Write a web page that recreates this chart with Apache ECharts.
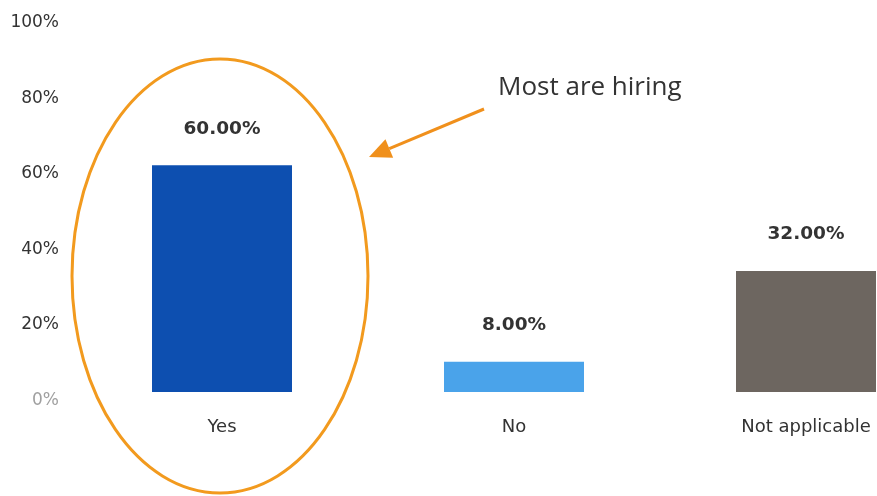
<!DOCTYPE html>
<html>
<head>
<meta charset="utf-8">
<script src="https://cdn.jsdelivr.net/npm/echarts@6/dist/echarts.min.js"></script>
<style>
  html, body { margin: 0; padding: 0; background: #ffffff; }
  #chart { width: 877px; height: 496px; }
</style>
</head>
<body>
<div id="chart"></div>
<script>
// Survey answers and their shares (percent)
const categories = ['Yes', 'No', 'Not applicable'];
const shares = [60, 8, 32];
const barColors = ['#0d4fb0', '#4aa3ea', '#6d6660'];
const yTicks = [0, 20, 40, 60, 80, 100];

const chart = echarts.init(document.getElementById('chart'));

// Arrow geometry for the callout
const arrowStart = [484, 109];
const arrowTip = [369, 157];
const dx = arrowTip[0] - arrowStart[0], dy = arrowTip[1] - arrowStart[1];
const len = Math.sqrt(dx * dx + dy * dy);
const ux = dx / len, uy = dy / len;
const headLen = 22, headHalf = 10;
const bx = arrowTip[0] - ux * headLen, by = arrowTip[1] - uy * headLen;
const headPts = [
  arrowTip,
  [bx - uy * headHalf, by + ux * headHalf],
  [bx + uy * headHalf, by - ux * headHalf]
];

chart.setOption({
  animation: false,
  backgroundColor: '#ffffff',
  grid: {
    left: 76, top: 14, bottom: 104, width: 876,
    containLabel: false,
    outerBoundsMode: 'none'
  },
  xAxis: {
    type: 'category',
    data: categories,
    axisLine: { show: false },
    axisTick: { show: false },
    axisLabel: {
      margin: 26,
      fontSize: 18,
      fontFamily: 'DejaVu Sans',
      color: '#333333'
    }
  },
  yAxis: {
    type: 'value',
    min: yTicks[0],
    max: yTicks[yTicks.length - 1],
    interval: 20,
    splitLine: { show: false },
    axisLine: { show: false },
    axisTick: { show: false },
    axisLabel: {
      margin: 17,
      fontSize: 17,
      fontFamily: 'DejaVu Sans',
      verticalAlign: 'top',
      formatter: v => v + '%',
      color: v => (Number(v) === 0 ? '#a0a0a0' : '#333333')
    }
  },
  series: [{
    type: 'bar',
    barWidth: 140,
    data: shares.map((v, i) => ({ value: v, itemStyle: { color: barColors[i] } })),
    label: {
      show: true,
      position: 'top',
      distance: 27,
      fontSize: 18.5,
      fontWeight: 'bold',
      fontFamily: 'DejaVu Sans',
      color: '#333333',
      formatter: p => p.value.toFixed(2) + '%'
    }
  }],
  graphic: [
    {
      type: 'ellipse',
      shape: { cx: 220, cy: 276, rx: 148, ry: 217 },
      style: { fill: 'none', stroke: '#f29a1e', lineWidth: 3 },
      z: 10
    },
    {
      type: 'line',
      shape: { x1: arrowStart[0], y1: arrowStart[1], x2: bx, y2: by },
      style: { stroke: '#f0901c', lineWidth: 3 },
      z: 10
    },
    {
      type: 'polygon',
      shape: { points: headPts },
      style: { fill: '#f0901c' },
      z: 10
    },
    {
      type: 'text',
      left: 498,
      top: 75,
      style: {
        text: 'Most are hiring',
        fontSize: 26,
        fontFamily: 'Open Sans',
        fill: '#333333'
      },
      z: 10
    }
  ]
});
</script>
</body>
</html>
